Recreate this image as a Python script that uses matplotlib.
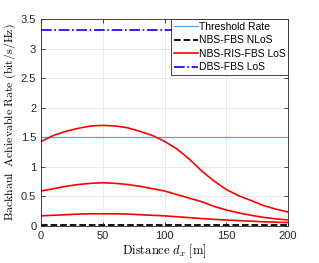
import matplotlib
matplotlib.use('Agg')
import matplotlib.pyplot as plt
import numpy as np

plt.rcParams['mathtext.fontset'] = 'cm'
plt.rcParams['font.family'] = ['Liberation Sans', 'DejaVu Sans']

distance = np.arange(0, 201, 10)
threshold_rate = 1.5
nlos_rate = 0.015
dbs_rate = 3.32

# three NBS-RIS-FBS LoS curves (different RIS sizes)
ris_high = [1.43, 1.53, 1.60, 1.65, 1.69, 1.70, 1.69, 1.66, 1.60, 1.53, 1.43,
            1.30, 1.13, 0.93, 0.76, 0.615, 0.51, 0.43, 0.345, 0.285, 0.234]
ris_mid = [0.59, 0.63, 0.67, 0.70, 0.72, 0.73, 0.72, 0.70, 0.67, 0.63, 0.59,
           0.53, 0.47, 0.41, 0.33, 0.27, 0.22, 0.18, 0.145, 0.12, 0.10]
ris_low = [0.17, 0.18, 0.19, 0.20, 0.205, 0.205, 0.205, 0.20, 0.19, 0.18, 0.17,
           0.155, 0.14, 0.125, 0.11, 0.10, 0.09, 0.08, 0.07, 0.063, 0.057]

fig = plt.figure(figsize=(3.19, 2.63), dpi=100)
ax = fig.add_axes([0.129, 0.141, 0.774, 0.787])

ax.plot(distance, np.full(len(distance), threshold_rate), color='#4DA6E8', lw=0.9, label='Threshold Rate')
ax.plot(distance, np.full(len(distance), nlos_rate), color='black', ls='--', lw=1.3, label='NBS-FBS NLoS')
ax.plot(distance, ris_high, color='red', lw=1.2, label='NBS-RIS-FBS LoS')
ax.plot(distance, ris_mid, color='red', lw=1.2)
ax.plot(distance, ris_low, color='red', lw=1.2)
ax.plot(distance, np.full(len(distance), dbs_rate), color='blue', ls='-.', lw=1.2, label='DBS-FBS LoS')

ax.set_xlim(0, 200)
ax.set_ylim(0, 3.5)
ax.set_xticks([0, 50, 100, 150, 200])
ax.set_yticks([0, 0.5, 1, 1.5, 2, 2.5, 3, 3.5])
ax.set_yticklabels(['0', '0.5', '1', '1.5', '2', '2.5', '3', '3.5'])
ax.grid(True, color='#E6E6E6', lw=0.6)
ax.set_axisbelow(True)
ax.tick_params(direction='in', top=True, right=True, labelsize=8, length=3,
               colors='#262626', width=0.6)
for s in ax.spines.values():
    s.set_color('#262626')
    s.set_linewidth(0.6)

ax.set_xlabel(r'$\mathrm{Distance}\ d_x\ [\mathrm{m}]$', fontsize=9, labelpad=1)
ax.set_ylabel(r'$\mathrm{Backhaul\ \ Achievable\ Rate\ (bit/s/Hz)}$', fontsize=8.5, labelpad=2)

leg = ax.legend(loc='upper right', borderaxespad=0, fontsize=7.5, fancybox=False,
                framealpha=1, edgecolor='#262626', handlelength=2.3, handletextpad=0.1,
                borderpad=0.25, labelspacing=0.35)
leg.get_frame().set_linewidth(0.6)

fig.savefig('out.png', dpi=100)
